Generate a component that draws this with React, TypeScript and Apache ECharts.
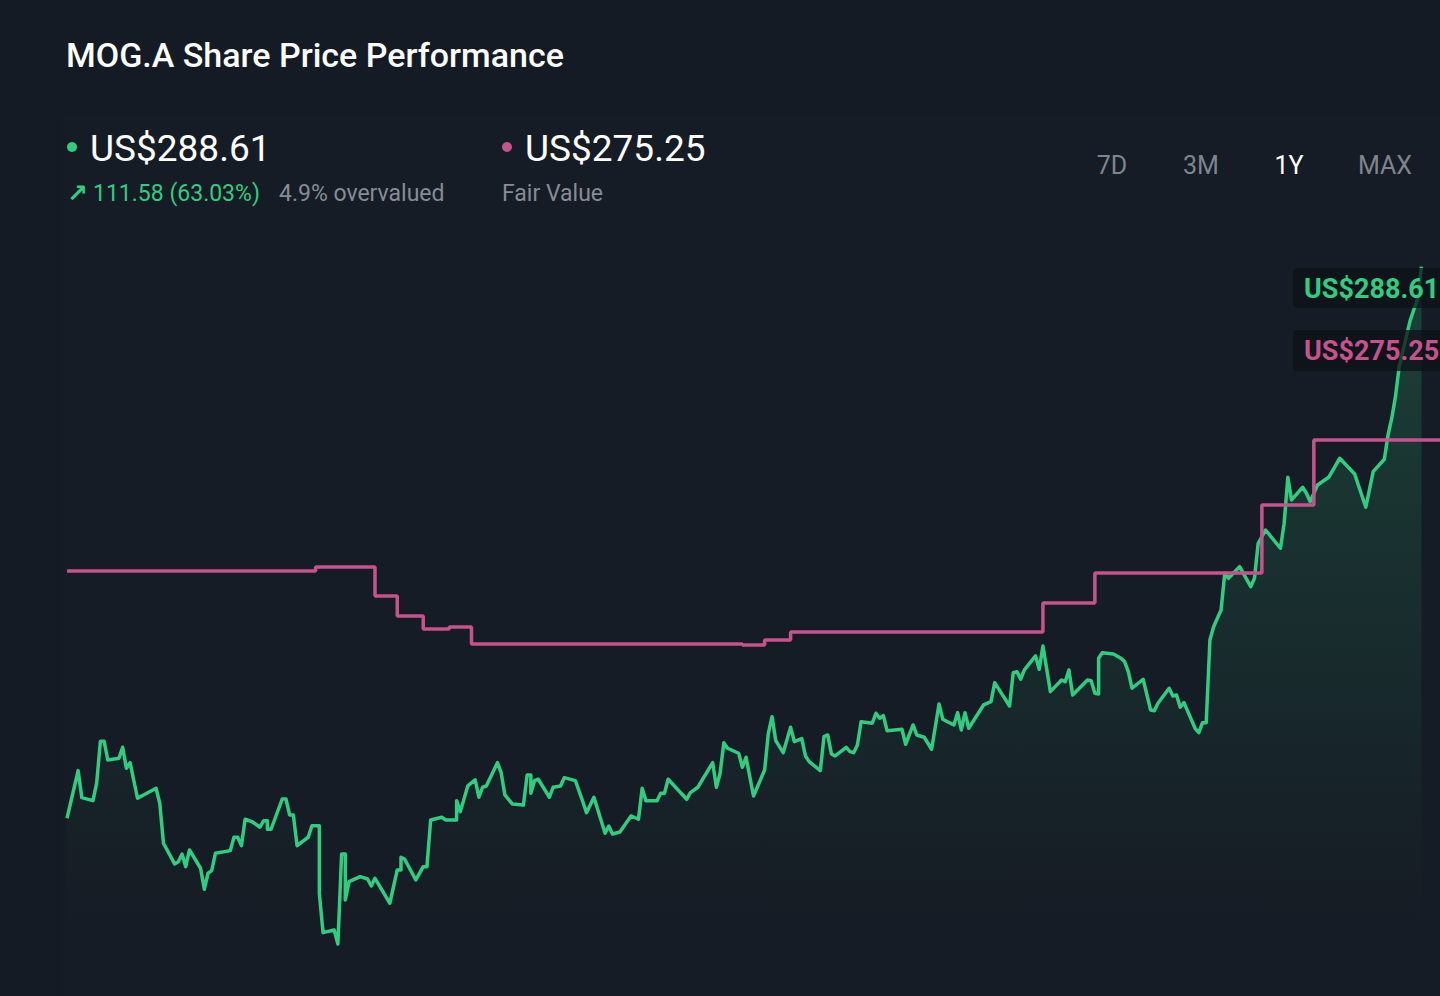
import React, { useEffect, useRef } from "react";
import * as echarts from "echarts";

// ---- Data ----
const ticker = "MOG.A";
const priceDays = [
  0, 3, 4, 7, 8, 9, 10, 11, 14, 15, 16, 17, 19, 24, 25, 26, 29, 30, 31, 32, 33, 36, 37, 38, 39, 40,
  44, 45, 46, 47, 48, 50, 52, 53, 54, 54, 55, 58, 59, 60, 61, 62, 65, 66, 68, 68, 69, 72, 73, 74,
  75, 75, 76, 79, 81, 82, 83, 87, 89, 90, 90, 91, 94, 96, 97, 98, 101, 102, 105, 105, 106, 108,
  110, 111, 112, 113, 116, 117, 118, 120, 123, 124, 125, 125, 126, 127, 130, 131, 133, 134, 137,
  139, 140, 142, 145, 146, 147, 149, 152, 154, 155, 156, 159, 160, 161, 162, 167, 168, 170, 174,
  175, 176, 177, 178, 181, 182, 183, 185, 188, 189, 190, 191, 193, 195, 196, 198, 199, 200, 203,
  204, 205, 206, 207, 210, 211, 212, 213, 214, 217, 218, 219, 220, 221, 225, 226, 228, 229, 231,
  233, 235, 236, 239, 240, 241, 242, 243, 247, 249, 250, 254, 255, 256, 257, 258, 261, 262, 263,
  265, 268, 269, 270, 271, 275, 276, 277, 278, 278, 279, 282, 284, 285, 286, 287, 290, 292, 293,
  294, 297, 298, 299, 300, 301, 304, 305, 306, 307, 308, 309, 311, 312, 313, 316, 319, 320, 321,
  323, 327, 328, 329, 330, 333, 334, 335, 337, 340, 343, 347, 350, 352, 355, 356, 357, 358, 359,
  362, 364, 365,
];
const priceValues = [
  177.03, 186.66, 181.2, 180.59, 184.17, 192.61, 192.61, 188.82, 189.17, 191.39, 187.14, 188.28,
  181.08, 183.1, 180.06, 171.97, 167.79, 168.25, 169.81, 167.24, 170.62, 166.92, 162.67, 165.91,
  166.43, 169.95, 170.48, 173.19, 173.19, 171.49, 176.83, 176.28, 175.21, 176.54, 176.54, 174.81,
  174.81, 180.93, 180.93, 177.7, 177.7, 171.49, 173.19, 175.53, 175.53, 161.86, 153.89, 154.44,
  151.6, 169.81, 169.81, 160.5, 164.21, 165.22, 164.75, 163.34, 164.89, 159.84, 166.57, 166.57,
  169.14, 168.74, 164.55, 167.24, 167.24, 176.69, 177.23, 176.69, 176.69, 180.59, 178.37, 183.56,
  184.78, 181.28, 183.3, 183.56, 188.28, 186.25, 181.74, 179.92, 179.72, 185.79, 185.79, 182.09,
  184.64, 184.92, 181.28, 183.3, 183.56, 185.24, 184.64, 180.39, 178.16, 181.28, 174.0, 175.47,
  173.85, 174.26, 177.5, 176.83, 183.1, 180.59, 180.59, 182.09, 182.09, 184.92, 180.87, 182.21,
  183.3, 188.28, 183.3, 186.13, 192.32, 191.19, 190.18, 187.35, 189.37, 181.54, 186.8, 194.22,
  197.58, 192.73, 190.3, 195.44, 192.52, 193.13, 189.63, 188.48, 186.66, 193.54, 193.88, 190.04,
  189.63, 191.39, 190.5, 190.3, 191.86, 196.57, 196.25, 198.27, 197.26, 197.78, 194.75, 195.03,
  192.0, 195.9, 193.88, 193.41, 190.99, 200.15, 197.05, 195.9, 198.39, 194.89, 198.39, 195.23,
  199.95, 200.61, 204.46, 199.74, 206.48, 206.68, 205.15, 207.03, 209.86, 207.17, 211.88, 202.64,
  205.0, 204.66, 207.03, 201.97, 205.0, 204.86, 202.31, 202.17, 209.39, 210.53, 210.26, 209.39,
  208.71, 206.68, 203.33, 205.15, 198.94, 198.79, 200.29, 203.33, 201.77, 201.97, 199.48, 200.41,
  195.23, 194.34, 196.37, 196.37, 213.09, 215.78, 219.16, 226.59, 225.57, 227.92, 223.88, 225.57,
  232.65, 235.34, 231.64, 236.7, 246.0, 241.41, 243.98, 242.77, 241.07, 244.45, 246.0, 249.85,
  246.67, 239.94, 247.14, 249.64, 254.56, 257.94, 262.31, 268.38, 277.82, 282.21, 288.61,
];
const fairValueDays = [0, 67, 83, 89, 96, 103, 109, 182, 188, 195, 263, 277, 322, 336, 370];
const fairValueValues = [
  248.75, 249.56, 243.7, 239.65, 237.02, 237.43, 234.0, 233.79, 234.8, 236.42, 242.28, 248.35,
  262.1, 275.25, 275.25,
];
const periodButtons = ["7D", "3M", "1Y", "MAX"];
const activePeriod = "1Y";

// ---- Styles ----
const BG = "#151b24";
const GREEN = "#2fcd7f";
const PINK = "#c6528e";
const GREY = "#868c95";
const FONT = "Roboto, 'Noto Sans', sans-serif";

export default function App() {
  const ref = useRef<HTMLDivElement>(null);

  useEffect(() => {
    document.body.style.margin = "0";
    document.body.style.background = BG;
    if (!ref.current) return;
    const chart = echarts.init(ref.current, undefined, { renderer: "svg" });

    const last = priceValues[priceValues.length - 1];
    const first = priceValues[0];
    const fv = fairValueValues[fairValueValues.length - 1];
    const change = last - first;
    const changePct = (change / first) * 100;
    const overPct = ((last - fv) / fv) * 100;
    const fmt = (v: number) => `US$${v.toFixed(2)}`;

    const priceData = priceDays.map((d, i) => [d, priceValues[i]]);
    const fvData = fairValueDays.map((d, i) => [d, fairValueValues[i]]);

    const btnX = [1112, 1201, 1289, 1385];

    chart.setOption({
      animation: false,
      backgroundColor: BG,
      title: {
        text: `${ticker} Share Price Performance`,
        left: 61,
        top: 33,
        textStyle: { color: "#ffffff", fontSize: 34, fontWeight: 500, fontFamily: FONT },
      },
      grid: { left: 67, right: 0, top: 210.3, bottom: 44.1 },
      xAxis: { type: "value", min: 0, max: 370, show: false },
      yAxis: [
        { type: "value", min: 150, max: 300, show: false },
        { type: "value", min: 171.71, max: 321.71, show: false },
      ],
      series: [
        {
          type: "line",
          data: priceData,
          yAxisIndex: 0,
          showSymbol: false,
          lineStyle: { color: GREEN, width: 3.5, join: "round" },
          itemStyle: { color: GREEN },
          areaStyle: {
            color: new echarts.graphic.LinearGradient(0, 0, 0, 1, [
              { offset: 0, color: "rgba(47,205,127,0.30)" },
              { offset: 0.9, color: "rgba(47,205,127,0.01)" },
              { offset: 1, color: "rgba(47,205,127,0)" },
            ]),
          },
          z: 3,
        },
        {
          type: "line",
          step: "end",
          data: fvData,
          yAxisIndex: 1,
          showSymbol: false,
          lineStyle: { color: PINK, width: 3.5 },
          itemStyle: { color: PINK },
          z: 4,
        },
      ],
      graphic: {
        elements: [
          {
            type: "rect",
            z: -10,
            silent: true,
            shape: { x: 62, y: 115, width: 1378, height: 881 },
            style: { fill: "#161c25" },
          },
          { type: "circle", shape: { cx: 72, cy: 147, r: 5 }, style: { fill: GREEN } },
          {
            type: "text",
            x: 90,
            y: 148,
            style: {
              text: fmt(last),
              fill: "#ffffff",
              fontSize: 37,
              fontFamily: FONT,
              verticalAlign: "middle",
            },
          },
          {
            type: "text",
            x: 67,
            y: 193,
            style: {
              text: "↗",
              fill: GREEN,
              fontSize: 25,
              fontWeight: "bold",
              fontFamily: "'DejaVu Sans', sans-serif",
              verticalAlign: "middle",
            },
          },
          {
            type: "text",
            x: 93,
            y: 193,
            style: {
              text: `${change.toFixed(2)} (${changePct.toFixed(2)}%)`,
              fill: GREEN,
              fontSize: 23,
              fontFamily: FONT,
              verticalAlign: "middle",
            },
          },
          {
            type: "text",
            x: 279,
            y: 193,
            style: {
              text: `${overPct.toFixed(1)}% ${overPct >= 0 ? "overvalued" : "undervalued"}`,
              fill: GREY,
              fontSize: 23,
              fontFamily: FONT,
              verticalAlign: "middle",
            },
          },
          { type: "circle", shape: { cx: 507, cy: 147, r: 5 }, style: { fill: PINK } },
          {
            type: "text",
            x: 525,
            y: 148,
            style: {
              text: fmt(fv),
              fill: "#ffffff",
              fontSize: 37,
              fontFamily: FONT,
              verticalAlign: "middle",
            },
          },
          {
            type: "text",
            x: 502,
            y: 193,
            style: {
              text: "Fair Value",
              fill: GREY,
              fontSize: 23,
              fontFamily: FONT,
              verticalAlign: "middle",
            },
          },
          ...periodButtons.map((b, i) => ({
            type: "text",
            x: btnX[i],
            y: 165,
            style: {
              text: b,
              fill: b === activePeriod ? "#ffffff" : "#7f858e",
              fontSize: 25,
              fontFamily: FONT,
              textAlign: "center",
              verticalAlign: "middle",
            },
          })),
          {
            type: "rect",
            z: 100,
            shape: { x: 1293, y: 268, width: 160, height: 40, r: 4 },
            style: { fill: "rgba(14,18,24,0.75)" },
          },
          {
            type: "text",
            z: 101,
            x: 1304,
            y: 289,
            style: {
              text: fmt(last),
              fill: GREEN,
              fontSize: 27,
              fontWeight: "bold",
              fontFamily: FONT,
              verticalAlign: "middle",
            },
          },
          {
            type: "rect",
            z: 100,
            shape: { x: 1293, y: 330, width: 160, height: 41, r: 4 },
            style: { fill: "rgba(14,18,24,0.75)" },
          },
          {
            type: "text",
            z: 101,
            x: 1304,
            y: 351,
            style: {
              text: fmt(fv),
              fill: PINK,
              fontSize: 27,
              fontWeight: "bold",
              fontFamily: FONT,
              verticalAlign: "middle",
            },
          },
        ],
      },
    });

    return () => chart.dispose();
  }, []);

  return (
    <div
      ref={ref}
      style={{ position: "fixed", left: 0, top: 0, width: 1440, height: 996, background: BG }}
    />
  );
}
